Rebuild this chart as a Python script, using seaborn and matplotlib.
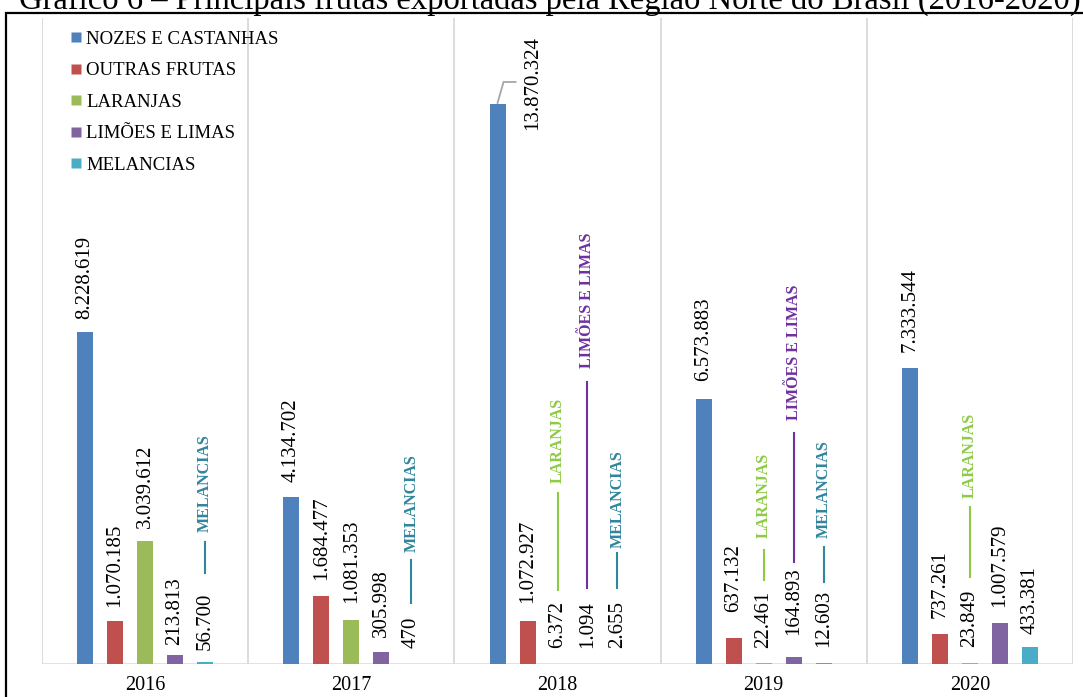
import matplotlib
matplotlib.use("Agg")
import matplotlib.pyplot as plt
import seaborn as sns
import pandas as pd
from matplotlib.lines import Line2D
from matplotlib.patches import Rectangle

# ---- data -------------------------------------------------------------
anos = ["2016", "2017", "2018", "2019", "2020"]
frutas = ["NOZES E CASTANHAS", "OUTRAS FRUTAS", "LARANJAS", "LIMÕES E LIMAS", "MELANCIAS"]
nozes_castanhas = [8228619, 4134702, 13870324, 6573883, 7333544]
outras_frutas = [1070185, 1684477, 1072927, 637132, 737261]
laranjas = [3039612, 1081353, 6372, 22461, 23849]
limoes_limas = [213813, 305998, 1094, 164893, 1007579]
melancias = [56700, 470, 2655, 12603, 433381]
titulo = "Gráfico 6 – Principais frutas exportadas pela Região Norte do Brasil (2016-2020)"

series = [nozes_castanhas, outras_frutas, laranjas, limoes_limas, melancias]
df = pd.DataFrame(
    [(a, f, s[i]) for f, s in zip(frutas, series) for i, a in enumerate(anos)],
    columns=["ano", "fruta", "valor"],
)

# ---- style ------------------------------------------------------------
cores = ["#4F81BD", "#C0504D", "#9BBB59", "#8064A2", "#4BACC6"]
cores_nome = {2: "#8DCB45", 3: "#7030A0", 4: "#31859C"}
serif = "Liberation Serif"
grid_cor = "#D9D9D9"

# lift of each value label above its bar, in pixels (rows: years, cols: fruits)
lift = [
    [13, 14, 13, 10, 12],
    [15, 16, 17, 15, 16],
    [0, 18, 16, 16, 16],
    [18, 26, 15, 22, 16],
    [16, 16, 16, 16, 13],
]
# series-name callouts: (year, fruit) -> (line start, line end, name start) in px above bar
callouts = {
    (0, 4): (89, 120, 130),
    (1, 4): (61, 104, 112),
    (2, 2): (74, 171, 181),
    (2, 3): (76, 282, 296),
    (2, 4): (76, 111, 116),
    (3, 2): (83, 113, 125),
    (3, 3): (95, 224, 237),
    (3, 4): (81, 116, 125),
    (4, 2): (86, 156, 165),
}

W, H = 1083, 697
fig = plt.figure(figsize=(W / 100, H / 100), dpi=100)
ax = fig.add_axes([42 / W, 33 / H, 1031 / W, 646 / H])

sns.barplot(
    data=df, x="ano", y="valor", hue="fruta", order=anos, hue_order=frutas,
    palette=cores, saturation=1, width=0.727, gap=0.466, ax=ax, legend=False,
    edgecolor="none",
)

ax.set_xlim(-0.5, 4.5)
ax.set_ylim(0, 16e6)
for s in ax.spines.values():
    s.set_visible(False)
ax.set_yticks([])
ax.set_xlabel("")
ax.set_ylabel("")
ax.tick_params(axis="x", length=0, pad=9)
for lab in ax.get_xticklabels():
    lab.set_fontfamily(serif)
    lab.set_fontsize(14.5)

for xb in [i - 0.5 for i in range(len(anos) + 1)]:
    ax.axvline(xb, color=grid_cor, lw=1.3, zorder=0)
ax.axhline(0, color=grid_cor, lw=1.8, zorder=0.5)


def fmt(v):
    return f"{v:,}".replace(",", ".")


def shift(x, y, dx, dy):
    X, Y = ax.transData.transform((x, y))
    return ax.transData.inverted().transform((X + dx, Y + dy))


for j, cont in enumerate(ax.containers):
    for i, bar in enumerate(cont):
        xc = bar.get_x() + bar.get_width() / 2
        v = series[j][i]
        if (i, j) == (2, 0):
            # tallest bar: label set aside with a leader line
            pts = [shift(xc, v, dx, dy) for dx, dy in [(0, 1), (6, 22), (18, 22)]]
            ax.plot([p[0] for p in pts], [p[1] for p in pts], color="#A6A6A6",
                    lw=1.3, clip_on=False)
            ax.annotate(fmt(v), xy=(xc, v), xytext=(35, 21), textcoords="offset pixels",
                        rotation=90, ha="center", va="center", fontsize=15,
                        fontfamily=serif, annotation_clip=False)
            continue
        ax.annotate(fmt(v), xy=(xc, v), xytext=(0, lift[i][j]), textcoords="offset pixels",
                    rotation=90, ha="center", va="bottom", fontsize=15,
                    fontfamily=serif, annotation_clip=False)
        if (i, j) in callouts:
            a, b, c = callouts[(i, j)]
            p0 = shift(xc, v, 0, a)
            p1 = shift(xc, v, 0, b)
            ax.plot([p0[0], p1[0]], [p0[1], p1[1]], color=cores_nome[j], lw=1.5)
            ax.annotate(frutas[j], xy=(xc, v), xytext=(0, c), textcoords="offset pixels",
                        rotation=90, ha="center", va="bottom", fontsize=11.5,
                        fontweight="bold", color=cores_nome[j], fontfamily=serif,
                        annotation_clip=False)

handles = [Line2D([], [], marker="s", linestyle="none", markersize=6.5,
                  markerfacecolor=c, markeredgecolor="none") for c in cores]
ax.legend(handles, frutas, loc="upper left", bbox_to_anchor=(21 / 1031, 1 - 5 / 646),
          frameon=False, prop={"family": serif, "size": 13.5}, handlelength=0.6,
          handletextpad=0.25, labelspacing=0.77, borderaxespad=0)

fig.text(550 / W, 1 - 9 / H, titulo, ha="center", va="baseline",
         fontsize=23.5, fontfamily=serif)
fig.patches.append(Rectangle((6 / W, -0.2), 1.5, 1.2 - 13 / H, transform=fig.transFigure,
                             fill=False, edgecolor="black", lw=1.6))

fig.savefig("out.png", dpi=100)
